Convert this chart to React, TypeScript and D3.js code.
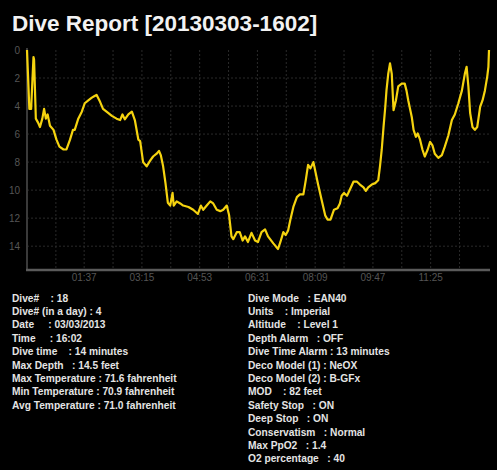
// Dive depth profile + dive log summary, drawn with d3 scales
import React from 'react';
import * as d3 from 'd3';

const title = 'Dive Report [20130303-1602]';

// elapsed time (seconds) and depth (feet)
const timeSec = [
  0, 4, 7, 11, 12, 15, 19, 22, 26, 29, 32, 35, 39, 45, 50, 55, 62, 67, 73, 78,
  81, 87, 93, 98, 104, 110, 114, 118, 124, 129, 135, 144, 152, 158, 162, 166, 172, 178, 183, 189,
  192, 195, 197, 203, 209, 214, 220, 224, 227, 231, 235, 239, 243, 247, 249, 254, 260, 265, 274, 282,
  290, 295, 299, 305, 311, 316, 322, 328, 333, 339, 343, 347, 350, 356, 361, 366, 370, 375, 381, 387,
  392, 398, 404, 409, 418, 426, 430, 435, 439, 443, 447, 452, 458, 463, 469, 473, 477, 481, 486, 489,
  494, 500, 506, 510, 515, 521, 527, 531, 534, 538, 543, 548, 554, 560, 565, 571, 575, 579, 585, 591,
  596, 599, 602, 605, 608, 610, 613, 616, 619, 622, 626, 630, 636, 641, 644, 647, 653, 656, 660, 663,
  667, 671, 675, 680, 684, 688, 692, 698, 704, 709, 715, 721, 726, 732, 738, 743, 746, 749, 752, 756,
  760, 764, 769, 773, 777, 781, 783, 784,
];
const depthFt = [
  0, 4.2, 4.2, 0.5, 0.7, 4.9, 5.2, 5.5, 4.9, 4.2, 4.9, 4.6, 5.4, 5.7, 6.4, 6.9, 7.1, 7.1, 6.4, 5.7,
  5.7, 4.9, 4.4, 3.8, 3.6, 3.4, 3.3, 3.2, 3.7, 4.2, 4.4, 4.7, 4.9, 5.0, 4.6, 4.95, 4.6, 4.4, 5.0, 6.4,
  6.5, 7.4, 8.0, 8.3, 7.9, 7.6, 7.4, 7.2, 7.5, 8.3, 9.5, 10.9, 11.1, 10.2, 11.1, 10.8, 10.95, 11.1, 11.2, 11.4,
  11.7, 11.1, 11.4, 11.1, 10.8, 10.95, 11.4, 11.5, 11.4, 11.1, 11.8, 13.3, 13.5, 13.0, 13.0, 13.6, 13.3, 13.7, 13.05, 13.6,
  13.7, 13.0, 12.8, 13.3, 13.8, 14.2, 13.7, 13.0, 13.2, 12.9, 12.1, 11.2, 10.5, 10.3, 10.3, 9.3, 8.2, 8.45, 8.0, 8.6,
  9.6, 10.7, 11.8, 12.1, 12.1, 11.4, 11.3, 10.95, 10.4, 10.2, 10.4, 9.95, 9.4, 9.4, 9.6, 9.8, 10.05, 9.8, 9.6, 9.5,
  9.3, 8.3, 7.1, 5.5, 4.05, 2.9, 1.7, 0.95, 1.7, 4.3, 3.6, 2.6, 2.4, 2.4, 2.9, 3.6, 4.8, 5.7, 6.2, 5.95,
  6.4, 7.1, 7.6, 7.1, 6.55, 6.8, 7.4, 7.7, 7.5, 6.9, 6.1, 5.0, 4.6, 3.8, 2.9, 1.7, 1.2, 2.6, 4.5, 5.5,
  5.7, 5.5, 4.05, 3.6, 2.9, 1.9, 1.2, 0,
];

const xTickSec = [97, 195, 293, 391, 489, 587, 685];
const xGridSec = [49, 97, 146, 195, 244, 293, 342, 391, 440, 489, 538, 587, 636, 685, 734];
const yTicks = [0, 2, 4, 6, 8, 10, 12, 14];

const leftInfo = [
  'Dive#    : 18',
  'Dive# (in a day) : 4',
  'Date     : 03/03/2013',
  'Time     : 16:02',
  'Dive time    : 14 minutes',
  'Max Depth   : 14.5 feet',
  'Max Temperature : 71.6 fahrenheit',
  'Min Temperature : 70.9 fahrenheit',
  'Avg Temperature : 71.0 fahrenheit',
];
const rightInfo = [
  'Dive Mode   : EAN40',
  'Units    : Imperial',
  'Altitude    : Level 1',
  'Depth Alarm   : OFF',
  'Dive Time Alarm : 13 minutes',
  'Deco Model (1) : NeOX',
  'Deco Model (2) : B-GFx',
  'MOD    : 82 feet',
  'Safety Stop   : ON',
  'Deep Stop   : ON',
  'Conservatism   : Normal',
  'Max PpO2   : 1.4',
  'O2 percentage   : 40',
];

const W = 497;
const H = 470;
const font = '"Liberation Sans", Arial, Helvetica, sans-serif';

const mmss = (s: number) => {
  const m = Math.floor(s / 60);
  const r = s % 60;
  return `${String(m).padStart(2, '0')}:${String(r).padStart(2, '0')}`;
};

export default function App() {
  const x = d3.scaleLinear().domain([0, 784]).range([27, 489]);
  const y = d3.scaleLinear().domain([0, 15.7]).range([50, 270]);

  const pts: [number, number][] = timeSec.map((t, i) => [t, depthFt[i]]);
  const line = d3
    .line<[number, number]>()
    .x(d => x(d[0]))
    .y(d => y(d[1]));

  return (
    <svg
      width={W}
      height={H}
      style={{ position: 'absolute', left: 0, top: 0, display: 'block' }}
      fontFamily={font}
    >
      <rect x={0} y={0} width={W} height={H} fill="#000" />

      <text x={12} y={31} fill="#f2f2f2" fontSize={22.5} fontWeight="bold">
        {title}
      </text>

      {/* grid */}
      <g stroke="#2a2a2a" strokeWidth={1} strokeDasharray="2,2">
        {xGridSec.map(s => (
          <line key={'gx' + s} x1={x(s)} x2={x(s)} y1={y(0)} y2={y(15.7)} />
        ))}
        {yTicks.slice(1).map(v => (
          <line key={'gy' + v} x1={x(0)} x2={x(784)} y1={y(v)} y2={y(v)} />
        ))}
      </g>

      {/* axes */}
      <line x1={x(0)} x2={x(0)} y1={y(0) - 2} y2={y(15.7)} stroke="#3a3a3a" strokeWidth={2} />
      <line x1={x(0) - 1} x2={x(784) + 1} y1={y(15.7)} y2={y(15.7)} stroke="#5a5a5a" strokeWidth={2.5} />

      <g fill="#555" fontSize={10} textAnchor="end">
        {yTicks.map(v => (
          <text key={'yl' + v} x={20} y={y(v)} dy="0.35em">
            {v}
          </text>
        ))}
      </g>
      <g fill="#555" fontSize={10} textAnchor="middle">
        {xTickSec.map(s => (
          <text key={'xl' + s} x={x(s)} y={281}>
            {mmss(s)}
          </text>
        ))}
      </g>

      <path d={line(pts) || ''} fill="none" stroke="#f5d30f" strokeWidth={2.2} strokeLinejoin="round" />

      {/* dive info */}
      <g fill="#e4e4e4" fontSize={10.2} fontWeight="bold">
        {leftInfo.map((t, i) => (
          <text key={'l' + i} x={12} y={301.5 + i * 13.4} xmlSpace="preserve">
            {t}
          </text>
        ))}
        {rightInfo.map((t, i) => (
          <text key={'r' + i} x={248} y={301.5 + i * 13.4} xmlSpace="preserve">
            {t}
          </text>
        ))}
      </g>
    </svg>
  );
}
